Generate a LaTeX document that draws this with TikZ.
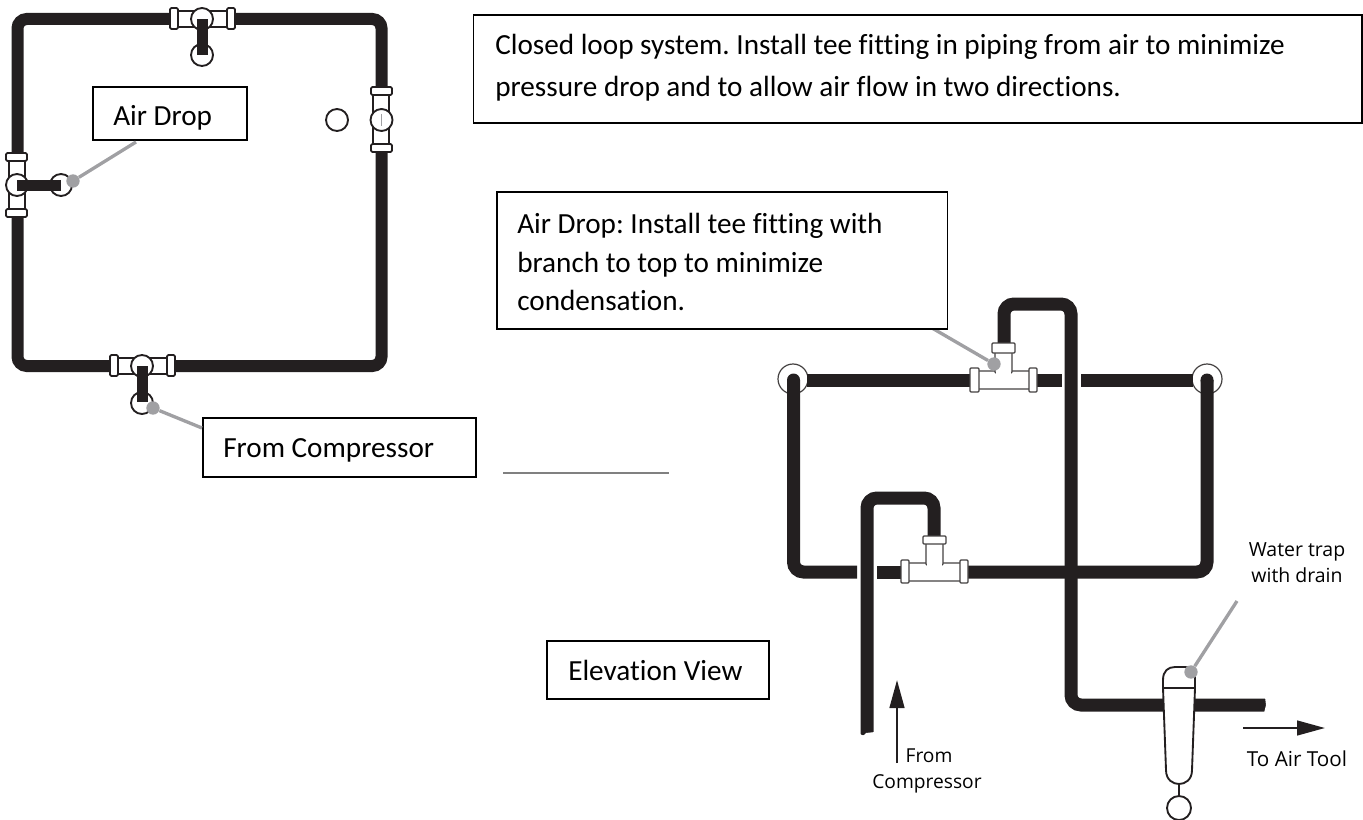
\documentclass[tikz,border=0pt]{standalone}
\usepackage{fontspec}
\setmainfont[Ligatures=NoCommon]{Carlito}
\newfontfamily\lblfont{Open Sans}
\frenchspacing
\usetikzlibrary{arrows.meta}
\definecolor{pipe}{HTML}{231F20}
\definecolor{leader}{HTML}{A0A0A3}
\tikzset{
  x=0.75pt,y=-0.75pt,
  pipeline/.style={draw=pipe,line width=9.75pt,rounded corners=7.5pt},
  planpipe/.style={draw=pipe,line width=9pt,rounded corners=7pt},
  fit/.style={draw=pipe,fill=white,line width=1.4pt,rounded corners=1pt},
  fitthin/.style={draw=pipe!85,fill=white,line width=0.9pt,rounded corners=0.8pt},
  ring/.style={circle,draw=pipe,fill=white,line width=1.4pt,minimum size=16.5pt,inner sep=0pt},
  bigring/.style={circle,draw=pipe!85,fill=white,line width=0.9pt,minimum size=22.5pt,inner sep=0pt},
  leaderline/.style={draw=leader,line width=2.5pt},
  dot/.style={circle,fill=leader,minimum size=10pt,inner sep=0pt},
  textbox/.style={draw=black,fill=white,line width=1.3pt,inner sep=0pt,anchor=north west,align=left},
  boxtext/.style={font=\fontsize{21.9pt}{29pt}\selectfont,align=left,anchor=west,inner sep=0pt},
  wide/.style={font=\fontsize{21.9pt}{31.5pt}\selectfont},
  small/.style={font=\lblfont\fontsize{14.4pt}{19.5pt}\selectfont,align=center,inner sep=0pt},
  arrowline/.style={draw=pipe,line width=1.8pt,-{Triangle[length=21pt,width=11pt]}},
}
\begin{document}
\begin{tikzpicture}
\useasboundingbox (0,0) rectangle (1363,820);
% ---------- plan view ----------
\coordinate (lTL) at (17.5,19); \coordinate (lTR) at (381.5,19);
\coordinate (lBR) at (381.5,366); \coordinate (lBL) at (17.5,366);
\draw[planpipe] (lTL) -- (lTR) -- (lBR) -- (lBL) -- cycle;
% top tee
\path[fit] (176,11) rectangle (229,27);
\path[fit] (170,8) rectangle (178,29);
\path[fit] (227,8) rectangle (235,29);
\node[ring] (tA) at (202,19) {};
\node[ring] (tB) at (202,55) {};
\fill[pipe] (197,19) rectangle (208,55);
% right tee
\path[fit] (373,93) rectangle (389,146);
\path[fit] (371,87) rectangle (392,95);
\path[fit] (371,144) rectangle (392,152);
\node[ring] (rA) at (381.5,120) {};
\draw[leader,line width=1pt] (381.5,114) -- (381.5,126);
\node[ring] (rB) at (337,120) {};
% left tee
\path[fit] (9,159) rectangle (25,211);
\path[fit] (6,153) rectangle (27,161);
\path[fit] (6,209) rectangle (27,217);
\node[ring] (lA) at (17,185) {};
\node[ring] (lB) at (61,185) {};
\fill[pipe] (17,180) rectangle (61,191);
% bottom tee
\path[fit] (116,358) rectangle (169,374);
\path[fit] (110,355) rectangle (118,376);
\path[fit] (167,355) rectangle (175,376);
\node[ring] (bA) at (142,366) {};
\node[ring] (bB) at (142,403) {};
\fill[pipe] (137,366) rectangle (148,402);
% boxes + leaders
\node[textbox,minimum width=115.5pt,minimum height=39.75pt] (airbox) at (92,86) {};
\node[boxtext] (airtxt) at (113,118) {Air Drop};
\node[dot] (airdot) at (73,181) {};
\coordinate (airend) at (136,142);
\draw[leaderline] (airdot) -- (airend);
\node[dot] (fcdot) at (153,408) {};
\node[textbox,minimum width=204.75pt,minimum height=44.25pt] (fcbox) at (202,417) {};
\node[boxtext] (fctxt) at (223,450) {From Compressor};
\coordinate (fcend) at (202,428);
\draw[leaderline] (fcdot) -- (fcend);
\coordinate (ruleA) at (503,473); \coordinate (ruleB) at (669,473);
\draw[draw=black!50,line width=0.8pt] (ruleA) -- (ruleB);
% ---------- top note ----------
\node[textbox,minimum width=666.4pt,minimum height=81pt] (topbox) at (472.5,14) {};
\node[boxtext,wide] (toptxt) at (495,68) {Closed loop system. Install tee fitting in piping from air to minimize\\pressure drop and to allow air flow in two directions.};
% ---------- elevation ----------
\coordinate (eTL) at (793.5,380); \coordinate (eBL) at (793.5,572);
\coordinate (eBR) at (1207,572); \coordinate (eTR) at (1207,380);
\node[bigring] (cL) at (793,379) {};
\node[bigring] (cR) at (1207,379) {};
\draw[draw=pipe,line width=9.75pt] (807,380.5) -- (1062,380.5);
\draw[draw=pipe,line width=9.75pt] (1081,380.5) -- (1193,380.5);
\fill[pipe] (eTL) circle (6.5);
\fill[pipe] (eTR) circle (6.5);
\draw[pipeline] (eTL) -- (eBL) -- (857,572);
\draw[pipeline] (eTR) -- (eBR) -- (964,572);
\draw[draw=pipe,line width=9.75pt] (877,572) -- (905,572);
\draw[pipeline] (867,735) -- (867,498) -- (934,498) -- (934,540);
\draw[pipeline] (1004,350) -- (1004,304) -- (1071,304) -- (1071,705) -- (1267,705);
\fill[white] (859,733) -- (863,736) -- (866,733) -- (875,732) -- (875,740) -- (859,740) -- cycle;
\fill[white] (1265,697) -- (1269,697) -- (1269,714) -- (1264,713) -- (1266,705) -- cycle;
% lower tee
\path[fitthin] (905,563) rectangle (964,581);
\path[fitthin] (926,540) rectangle (943,565);
\fill[white] (926.7,558) rectangle (942.3,572);
\path[fitthin] (901,560) rectangle (909,583);
\path[fitthin] (960,560) rectangle (968,583);
\path[fitthin] (923,536) rectangle (946,544);
% upper tee
\path[fitthin] (975,371) rectangle (1033,389);
\path[fitthin] (995,350) rectangle (1012,373);
\fill[white] (995.7,366) rectangle (1011.3,380);
\path[fitthin] (970,368) rectangle (979,392);
\path[fitthin] (1029,368) rectangle (1037,392);
\path[fitthin] (992,343) rectangle (1015,353);
% leader upper tee
\node[dot] (utdot) at (994,364) {};
\coordinate (utend) at (932,328);
\draw[leaderline] (utdot) -- (utend);
\node[textbox,minimum width=338pt,minimum height=102.75pt] (noteb) at (496,191) {};
\node[boxtext] (notet) at (517,262) {Air Drop: Install tee fitting with\\branch to top to minimize\\condensation.};
\node[textbox,minimum width=166.5pt,minimum height=43.5pt] (elev) at (546,640) {};
\node[boxtext] (elevt) at (568,670) {Elevation View};
% water trap
\path[draw=pipe,fill=white,line width=1.4pt] (1163,688) -- (1163,680) .. controls (1163,671) and (1168,667) .. (1175,667) -- (1185,667) .. controls (1192,667) and (1195,671) .. (1195,676) -- (1195,688) -- cycle;
\path[draw=pipe,fill=white,line width=1.4pt] (1163,688) -- (1195,688) -- (1192,770) .. controls (1192,780) and (1185,784) .. (1179,784) .. controls (1173,784) and (1166,780) .. (1166,770) -- cycle;
\node[ring,minimum size=18pt] (drain) at (1179,808) {};
\draw[draw=pipe,line width=1.4pt] (1179,784) -- (drain);
\node[dot] (wtdot) at (1191,672) {};
\coordinate (wtend) at (1237,601);
\draw[leaderline] (wtdot) -- (wtend);
% arrows + labels
\coordinate (upS) at (897,763); \coordinate (upE) at (897,680);
\draw[arrowline] (upS) -- (upE);
\coordinate (rtS) at (1243,728); \coordinate (rtE) at (1325,728);
\draw[arrowline] (rtS) -- (rtE);
\node[small] (from) at (927,771) {\hspace{3pt}From\\Compressor};
\node[small,font=\lblfont\fontsize{15.5pt}{19.5pt}\selectfont] (tool) at (1297,759) {To Air Tool};
\node[small,font=\lblfont\fontsize{14.6pt}{19.5pt}\selectfont] (trap) at (1297,563) {Water trap\\with drain};
\end{tikzpicture}
\end{document}
